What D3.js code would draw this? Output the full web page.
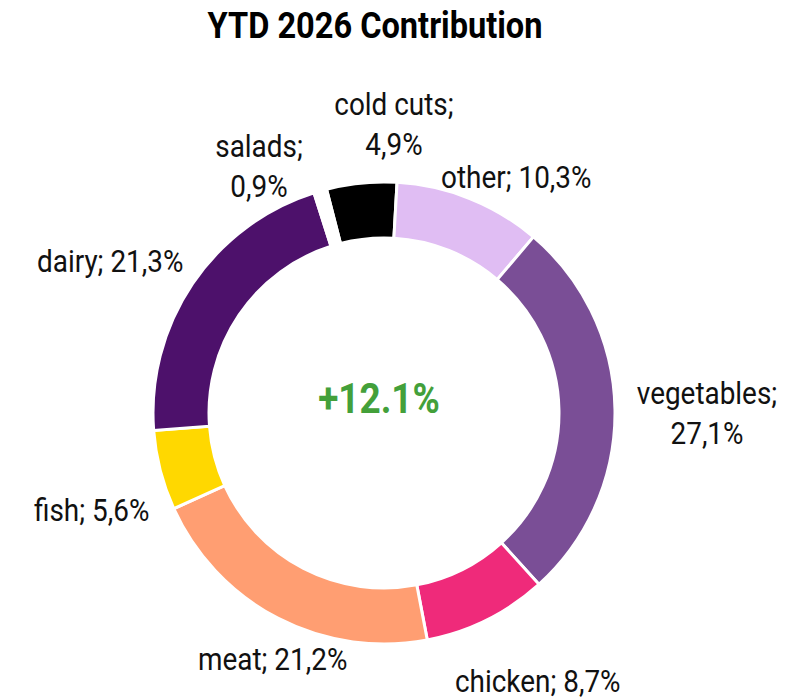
<!DOCTYPE html>
<html>
<head>
<meta charset="utf-8">
<script src="https://cdn.jsdelivr.net/npm/d3@7"></script>
<style>
  html, body { margin: 0; padding: 0; background: #fff; }
  svg text { font-family: Roboto, "Noto Sans", sans-serif; }
</style>
</head>
<body>
<svg id="chart" width="799" height="698"></svg>
<script>
// Category shares, clockwise from the cold cuts slice
const categories = ["cold cuts", "other", "vegetables", "chicken", "meat", "fish", "dairy", "salads"];
const shares = [4.9, 10.3, 27.1, 8.7, 21.2, 5.6, 21.3, 0.9];
const colors = ["#000000", "#e0bdf3", "#7a4e96", "#ef2a7a", "#ff9e72", "#ffd800", "#4d116b", "#ffffff"];
const labelLines = [
  ["cold cuts;", "4,9%"],
  ["other; 10,3%"],
  ["vegetables;", "27,1%"],
  ["chicken; 8,7%"],
  ["meat; 21,2%"],
  ["fish; 5,6%"],
  ["dairy; 21,3%"],
  ["salads;", "0,9%"]
];
const title = "YTD 2026 Contribution";
const centerText = "+12.1%";

const svg = d3.select("#chart");
const cx = 384, cy = 413;
const outerR = 231, innerR = 175;
const startDeg = -14.4;
// narrow type (condensed look)
const squeeze = 0.88;

const pie = d3.pie()
  .sort(null)
  .value(d => d)
  .startAngle(startDeg * Math.PI / 180)
  .endAngle((startDeg + 360) * Math.PI / 180);

const arc = d3.arc().innerRadius(innerR).outerRadius(outerR);

const arcs = pie(shares);
const g = svg.append("g").attr("transform", `translate(${cx},${cy})`);

g.selectAll("path.slice")
  .data(arcs)
  .join("path")
  .attr("class", "slice")
  .attr("d", arc)
  .attr("fill", (d, i) => colors[i])
  .attr("stroke", "#fff")
  .attr("stroke-width", 3);

// Label anchor offsets (relative to the ring centre) for each category
const labelPos = [
  { x: 10, y: -298, anchor: "middle" },
  { x: 57, y: -225, anchor: "start" },
  { x: 323, y: -9, anchor: "middle" },
  { x: 71, y: 279, anchor: "start" },
  { x: -186, y: 257, anchor: "start" },
  { x: -350, y: 108, anchor: "start" },
  { x: -347, y: -141, anchor: "start" },
  { x: -125, y: -256, anchor: "middle" }
];

const lineH = 40;
g.selectAll("text.lbl")
  .data(arcs)
  .join("text")
  .attr("class", "lbl")
  .attr("font-size", 31)
  .attr("fill", "#111")
  .attr("text-anchor", (d, i) => labelPos[i].anchor)
  .attr("transform", (d, i) => `translate(${labelPos[i].x},${labelPos[i].y}) scale(${squeeze + 0.02},1)`)
  .each(function (d, i) {
    const t = d3.select(this);
    labelLines[i].forEach((line, k) => {
      t.append("tspan").attr("x", 0).attr("y", k * lineH).text(line);
    });
  });

g.append("text")
  .attr("text-anchor", "middle")
  .attr("transform", `translate(-5,0) scale(${squeeze},1)`)
  .attr("font-size", 42)
  .attr("font-weight", "bold")
  .attr("fill", "#43a03a")
  .text(centerText);

svg.append("text")
  .attr("transform", `translate(375,38) scale(${squeeze},1)`)
  .attr("text-anchor", "middle")
  .attr("font-size", 37)
  .attr("font-weight", "bold")
  .attr("fill", "#000")
  .text(title);
</script>
</body>
</html>
